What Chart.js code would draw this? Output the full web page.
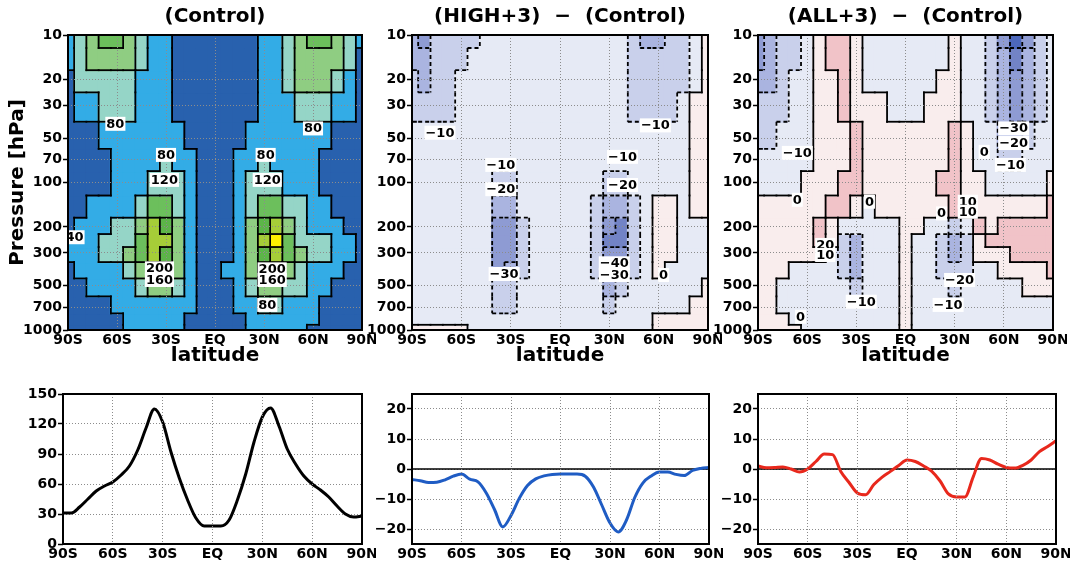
<!DOCTYPE html>
<html><head><meta charset="utf-8">
<script src="https://cdn.jsdelivr.net/npm/chart.js@4.4.1/dist/chart.umd.min.js"></script>
<style>
html,body{margin:0;padding:0;background:#fff;}
body{width:1074px;height:568px;position:relative;overflow:hidden;}
canvas{position:absolute;}
</style></head><body>
<canvas id="t1" width="376" height="372" style="left:0;top:0"></canvas>
<canvas id="t2" width="360" height="372" style="left:362px;top:0"></canvas>
<canvas id="t3" width="359" height="372" style="left:708px;top:0"></canvas>
<canvas id="b1" width="376" height="188" style="left:0;top:380px"></canvas>
<canvas id="b2" width="361" height="188" style="left:362px;top:380px"></canvas>
<canvas id="b3" width="362" height="188" style="left:708px;top:380px"></canvas>
<script>
// ---------- data ----------
const lats = [-90,-82.5,-75,-67.5,-60,-52.5,-45,-37.5,-30,-22.5,-15,-7.5,0,7.5,15,22.5,30,37.5,45,52.5,60,67.5,75,82.5,90];
const levels = [10,15,20,30,50,70,100,150,200,250,300,400,500,700,850,1000];
const pressureTicks = [10,20,30,50,70,100,200,300,500,700,1000];
const latTicks = [-90,-60,-30,0,30,60,90];
const latTickLabels = ['90S','60S','30S','EQ','30N','60N','90N'];

const control = [
[60,110,150,170,165,130,100,60,50,30,20,15,15,15,20,35,55,70,100,140,170,175,140,100,60],
[50,90,125,140,140,122,95,60,50,30,20,15,15,15,20,35,55,70,95,125,145,145,125,90,35],
[38,80,105,115,115,100,78,60,45,30,20,18,18,18,20,32,50,65,90,125,135,128,100,70,35],
[30,40,70,90,95,85,70,58,45,30,20,18,18,18,20,32,45,58,68,85,100,90,70,50,30],
[25,30,38,55,70,68,65,65,65,45,25,18,15,18,25,45,65,65,65,68,72,62,38,30,25],
[22,25,30,38,60,68,72,76,82,65,42,25,20,25,42,65,82,78,72,65,55,35,32,25,22],
[20,22,28,35,42,55,68,88,112,85,60,30,25,30,60,85,112,90,70,55,42,35,28,22,20],
[25,30,40,55,65,78,110,170,160,115,70,38,30,38,70,115,160,175,115,80,65,45,35,30,25],
[35,45,60,70,80,100,140,250,230,140,75,35,30,35,75,140,230,265,130,95,78,62,42,30,25],
[45,55,65,80,95,115,170,275,240,140,78,38,30,38,78,140,250,290,180,115,95,80,60,40,30],
[50,58,70,85,100,125,170,250,210,135,78,38,30,38,78,135,220,260,175,130,105,85,65,45,30],
[38,42,55,65,75,95,140,200,180,120,70,38,30,40,72,125,190,210,150,100,78,65,42,32,28],
[25,32,45,55,65,75,95,130,125,95,60,35,25,35,62,100,135,140,110,85,70,48,38,30,28],
[20,22,28,35,42,58,65,75,78,65,42,28,20,28,42,65,82,82,70,60,42,32,30,25,20],
[20,22,25,30,38,48,55,60,55,45,30,22,18,22,30,42,58,60,58,52,40,30,25,22,20],
[18,20,22,28,35,42,50,55,50,42,28,20,18,20,28,40,52,55,52,48,38,28,22,20,18]
];
const high3 = [
[-28,-32,-18,-14,-12,-11,-4,-3,-3,-3,-3,-3,-3,-3,-3,-3,-3,-8,-15,-21,-22,-20,-14,-5,2],
[-26,-26,-16,-13,-11,-6,-3,-3,-3,-3,-3,-3,-3,-3,-3,-3,-3,-6,-13,-18,-18,-15,-12,-4,1],
[-18,-22,-16,-12,-8,-4,-3,-3,-3,-3,-3,-3,-3,-3,-3,-3,-3,-4,-12,-15,-15,-13,-11,-3,1],
[-12,-15,-14,-12,-5,-3,-3,-3,-3,-3,-3,-3,-3,-3,-3,-3,-3,-3,-11,-12,-12,-11,-6,2,2],
[-6,-8,-7,-4,-3,-3,-3,-3,-3,-3,-3,-3,-3,-3,-3,-3,-3,-3,-6,-8,-7,-5,-3,2,2],
[-3,-3,-3,-3,-3,-3,-3,-4,-4,-3,-3,-3,-3,-3,-3,-3,-8,-8,-3,-3,-3,-3,-3,2,2],
[-3,-3,-3,-3,-3,-3,-5,-12,-12,-5,-3,-3,-3,-3,-3,-8,-15,-15,-6,-3,-3,-3,-3,2,2],
[-3,-3,-3,-3,-3,-3,-6,-25,-22,-8,-3,-3,-3,-3,-3,-14,-28,-30,-12,-3,2,2,-3,2,2],
[-3,-3,-3,-3,-3,-3,-9,-35,-31,-12,-3,-3,-3,-3,-3,-18,-40,-44,-15,-3,2,2,-3,-3,-3],
[-3,-3,-3,-3,-3,-3,-9,-36,-32,-13,-3,-3,-3,-3,-3,-18,-42,-42,-15,-3,2,2,-3,-3,-3],
[-3,-3,-3,-3,-3,-3,-9,-34,-31,-12,-3,-3,-3,-3,-3,-17,-38,-36,-13,-3,2,2,-3,-3,-3],
[-3,-3,-3,-3,-3,-3,-8,-31,-24,-11,-3,-3,-3,-3,-3,-14,-30,-28,-11,-3,2,-3,-3,-3,-3],
[-3,-3,-3,-3,-3,-3,-6,-18,-18,-8,-3,-3,-3,-3,-3,-10,-22,-18,-8,-3,-3,-3,-3,-3,2],
[-3,-3,-3,-3,-3,-3,-4,-11,-12,-5,-3,-3,-3,-3,-3,-5,-12,-10,-4,-3,-3,-3,-3,1,2],
[-2,-2,-2,-2,-2,-3,-3,-4,-4,-3,-3,-3,-3,-3,-3,-3,-4,-3,-3,-3,1,2,2,2,2],
[2,2,2,2,2,-2,-3,-3,-3,-3,-3,-3,-3,-3,-3,-3,-3,-3,-3,-2,2,2,2,2,2]
];
const all3 = [
[-35,-30,-20,-12,-3,3,12,12,3,-2,-3,-3,-3,-3,-3,-2,2,-2,-8,-20,-35,-55,-35,-15,-5],
[-32,-26,-18,-11,-4,3,11,12,4,-2,-3,-3,-3,-3,-3,-2,2,-2,-7,-16,-30,-45,-30,-15,-6],
[-24,-22,-17,-10,-3,3,8,12,5,-2,-2,-3,-3,-3,-2,2,3,-1,-5,-13,-26,-38,-26,-13,-6],
[-18,-15,-12,-8,-3,2,5,11,8,1,1,-1,-1,-1,1,4,8,-1,-3,-12,-22,-32,-22,-11,-6],
[-12,-11,-9,-4,-2,2,4,8,12,3,2,2,2,2,2,5,11,2,-2,-8,-25,-22,-12,-5,-3],
[-8,-6,-4,-2,-1,2,4,7,12,4,2,2,2,2,2,6,11,2,-1,-5,-15,-12,-6,-3,-2],
[-3,-3,-2,-1,1,3,6,11,11,3,2,2,2,2,2,10,12,3,1,-3,-5,-4,-3,-2,1],
[1,1,1,1,2,6,12,11,1,-2,2,2,3,2,1,4,11,8,6,5,4,5,6,9,11],
[2,2,2,2,3,12,8,-1,-6,-4,-2,-1,2,1,-1,-5,-12,-10,11,8,10,11,12,12,13],
[2,2,2,2,5,12,2,-13,-21,-8,-3,-1,2,-1,-3,-12,-22,-18,6,11,12,12,12,13,13],
[2,2,2,2,3,5,-5,-15,-22,-10,-4,-2,2,-1,-4,-13,-23,-16,2,5,8,11,12,12,12],
[2,2,1,-1,-2,-3,-6,-12,-21,-10,-4,-2,2,-2,-4,-11,-20,-14,-3,-1,1,3,6,8,11],
[2,1,-1,-2,-3,-4,-5,-9,-12,-7,-3,-2,2,-2,-3,-8,-13,-9,-3,-2,-1,-1,1,3,5],
[1,1,-1,-2,-2,-3,-3,-4,-5,-3,-2,-1,2,-2,-3,-5,-6,-4,-3,-2,-2,-2,-1,-1,-1],
[1,1,1,-1,-2,-2,-2,-3,-3,-2,-2,-1,2,-1,-2,-3,-4,-3,-2,-2,-1,-1,-1,-1,-1],
[1,1,1,1,-1,-2,-2,-2,-2,-2,-1,-1,2,-1,-1,-2,-2,-2,-2,-1,-1,-1,-1,-1,-1]
];

const lat5 = [-90,-85,-80,-75,-70,-65,-60,-55,-50,-45,-40,-35,-30,-25,-20,-15,-10,-5,0,5,10,15,20,25,30,35,40,45,50,55,60,65,70,75,80,85,90];
const controlMean = [31,31,37,45,53,58,62,69,78,94,116,135,122,92,66,44,26,18,18,18,24,44,70,102,127,136,118,95,80,68,60,54,47,38,30,27,28];
const highMean = [-3.5,-3.9,-4.5,-4.4,-3.6,-2.4,-1.7,-3.4,-4.3,-8,-13.5,-19.3,-15.5,-9.8,-5.5,-3.3,-2.3,-1.8,-1.7,-1.7,-1.7,-2.4,-6,-12,-18,-21,-17,-9.5,-4.6,-2.3,-1,-1,-1.8,-2.2,-0.5,0.2,0.5];
const allMean = [1,0.4,0.5,0.7,0,-1,0,2.5,5,4.8,-0.8,-4.5,-8,-8.6,-5.2,-2.7,-0.8,1.2,3,2.5,1,-0.8,-4,-8.3,-9.3,-9.3,-2.6,3.5,3,1.6,0.5,0.3,1.2,3,5.8,7.5,9.4];
const zeroLine = [0,0];

const ctlLabels = [[-61,40,'80'],[60,43,'80'],[-30,65,'80'],[-31,96,'120'],[31,65,'80'],[32,96,'120'],[-86,235,'40'],[-34,382,'200'],[-34,458,'160'],[35,388,'200'],[35,458,'160'],[32,676,'80']];
const highLabels = [[-73,46,'−10'],[-36,76,'−10'],[-36,111,'−20'],[-34,417,'−30'],[38,67,'−10'],[38,104,'−20'],[33,353,'−40'],[33,424,'−30'],[58,41,'−10'],[63,424,'0']];
const allLabels = [[-66,63,'−10'],[-66,131,'0'],[-22,135,'0'],[-49,265,'20'],[-49,310,'10'],[-27,643,'−10'],[-64,813,'0'],[22,162,'0'],[38,135,'10'],[38,158,'10'],[33,458,'−20'],[26,676,'−10'],[48,62,'0'],[66,43,'−30'],[66,54,'−20'],[64,76,'−10']];

// ---------- styling ----------
const FONT = "'DejaVu Sans', Verdana, sans-serif";
Chart.defaults.font.family = FONT;
Chart.defaults.color = '#000';
const ctlThr = [40,80,120,160,200,240,280];
const ctlCol = ['#2861ae','#33ace6','#95d5c7','#8fcd82','#6cbf5c','#5cb548','#a6cd38','#fff000'];
const difThr = [-50,-40,-30,-20,-10,0,10,20];
const difCol = ['#4d68bc','#7283c6','#8e9bd3','#aab4e0','#c9d0eb','#e6eaf5','#f9eded','#f1c3c8','#e79aa3'];
const bandOf = (v, thr) => { let b = 0; for (const t of thr) if (v >= t) b++; return b; };

const edges = levels.map((p, i) => [
  i === 0 ? p : Math.sqrt(p * levels[i - 1]),
  i === levels.length - 1 ? p : Math.sqrt(p * levels[i + 1])
]);
const tickFont = {family: FONT, size: 14, weight: 'bold'};
const GRID = '#8c8c8c';

const framePlugin = {id: 'frame', afterDraw(chart) {
  const c = chart.chartArea, ctx = chart.ctx;
  ctx.save(); ctx.strokeStyle = '#000'; ctx.lineWidth = 2;
  ctx.strokeRect(c.left, c.top, c.right - c.left, c.bottom - c.top); ctx.restore();
}};

function makeContourPlugin(field, thr) {
  return {id: 'contourLines', afterDatasetsDraw(chart) {
    const xs = chart.scales.x, ys = chart.scales.y, ctx = chart.ctx, ca = chart.chartArea;
    const half = (lats[1] - lats[0]) / 2;
    const xl = c => xs.getPixelForValue(lats[c] - half), xr = c => xs.getPixelForValue(lats[c] + half);
    const yt = r => ys.getPixelForValue(edges[r][0]), yb = r => ys.getPixelForValue(edges[r][1]);
    ctx.save(); ctx.beginPath(); ctx.rect(ca.left, ca.top, ca.right - ca.left, ca.bottom - ca.top); ctx.clip();
    ctx.strokeStyle = '#000'; ctx.lineWidth = 1.8;
    const seg = (x1, y1, x2, y2, b1, b2) => {
      const t = thr[Math.max(b1, b2) - 1];
      const dashed = t < 0;
      ctx.setLineDash(dashed ? [4, 3] : []); ctx.lineCap = dashed ? 'butt' : 'square';
      ctx.beginPath(); ctx.moveTo(x1, y1); ctx.lineTo(x2, y2); ctx.stroke();
    };
    for (let r = 0; r < field.length; r++) for (let c = 0; c < lats.length; c++) {
      const b = bandOf(field[r][c], thr);
      if (c < lats.length - 1) { const b2 = bandOf(field[r][c + 1], thr); if (b !== b2) seg(xr(c), yt(r), xr(c), yb(r), b, b2); }
      if (r < field.length - 1) { const b2 = bandOf(field[r + 1][c], thr); if (b !== b2) seg(xl(c), yb(r), xr(c), yb(r), b, b2); }
    }
    ctx.restore();
  }};
}
function makeLabelPlugin(list) {
  return {id: 'contourLabels', afterDraw(chart) {
    const xs = chart.scales.x, ys = chart.scales.y, ctx = chart.ctx, ca = chart.chartArea;
    ctx.save(); ctx.beginPath(); ctx.rect(ca.left, ca.top, ca.right - ca.left, ca.bottom - ca.top); ctx.clip();
    ctx.font = 'bold 13px ' + FONT; ctx.textAlign = 'center'; ctx.textBaseline = 'middle';
    for (const [lat, p, t] of list) {
      const px = xs.getPixelForValue(lat), py = ys.getPixelForValue(p);
      const w = ctx.measureText(t).width + 2;
      ctx.fillStyle = '#fff'; ctx.fillRect(px - w / 2, py - 7, w, 14);
      ctx.fillStyle = '#000'; ctx.fillText(t, px, py + 0.5);
    }
    ctx.restore();
  }};
}

function xAxis(withTitle, h) {
  return {
    type: 'linear', min: -90, max: 90, offset: false,
    grid: {offset: false, color: GRID, lineWidth: 1, drawTicks: false, z: 1},
    border: {display: false, dash: [1, 2]},
    afterBuildTicks: ax => { ax.ticks = latTicks.map(v => ({value: v})); },
    ticks: {callback: v => latTickLabels[latTicks.indexOf(v)], font: tickFont, color: '#000', padding: 2, maxRotation: 0, autoSkip: false},
    title: withTitle ? {display: true, text: 'latitude', color: '#000', font: {family: FONT, size: 20, weight: 'bold'}, padding: {top: 0, bottom: 4}} : {display: false},
    afterFit: ax => { ax.height = h; ax.paddingLeft = 0; ax.paddingRight = 0; }
  };
}

function topChart(id, field, thr, cols, title, labels, yTitle, yWidth) {
  const datasets = levels.map((p, r) => ({
    type: 'bar',
    data: lats.map(lat => ({x: lat, y: edges[r]})),
    backgroundColor: field[r].map(v => cols[bandOf(v, thr)]),
    borderWidth: 0, inflateAmount: 1, grouped: false, barPercentage: 1, categoryPercentage: 1
  }));
  new Chart(document.getElementById(id), {
    type: 'bar',
    data: {datasets},
    options: {
      responsive: false, animation: false, devicePixelRatio: 1,
      layout: {padding: {left: 0, right: 14, top: 0, bottom: 0}},
      plugins: {
        legend: {display: false}, tooltip: {enabled: false},
        title: {display: true, text: title, fullSize: false, color: '#000', font: {family: FONT, size: 20, weight: 'bold'}, padding: {top: 5, bottom: 6}}
      },
      scales: {
        x: xAxis(true, 42),
        y: {
          type: 'logarithmic', reverse: true, min: 10, max: 1000, beginAtZero: false,
          afterBuildTicks: ax => { ax.ticks = pressureTicks.map(v => ({value: v})); },
          ticks: {callback: v => String(v), font: tickFont, color: '#000', padding: 1, autoSkip: false},
          grid: {color: GRID, lineWidth: 1, z: 1, drawTicks: true, tickLength: 5, tickColor: '#000', tickWidth: 1.5},
          border: {display: false, dash: [1, 2]},
          title: yTitle ? {display: true, text: 'Pressure [hPa]', color: '#000', font: {family: FONT, size: 20, weight: 'bold'}, padding: {top: 6, bottom: 0}} : {display: false},
          afterFit: ax => { ax.width = yWidth; ax.paddingTop = 0; ax.paddingBottom = 0; }
        }
      }
    },
    plugins: [makeContourPlugin(field, thr), makeLabelPlugin(labels), framePlugin]
  });
}

function bottomChart(id, series, color, yMin, yMax, yTicks, yWidth, withZero) {
  const datasets = [{
    data: lat5.map((l, i) => ({x: l, y: series[i]})),
    borderColor: color, borderWidth: 3, pointRadius: 0, cubicInterpolationMode: 'monotone', fill: false
  }];
  if (withZero) datasets.push({data: [{x: -90, y: zeroLine[0]}, {x: 90, y: zeroLine[1]}], borderColor: '#000', borderWidth: 1.5, pointRadius: 0, fill: false});
  new Chart(document.getElementById(id), {
    type: 'line',
    data: {datasets},
    options: {
      responsive: false, animation: false, devicePixelRatio: 1,
      layout: {padding: {left: 0, right: 14, top: 14, bottom: 0}},
      plugins: {legend: {display: false}, tooltip: {enabled: false}},
      scales: {
        x: xAxis(false, 24),
        y: {
          type: 'linear', min: yMin, max: yMax,
          afterBuildTicks: ax => { ax.ticks = yTicks.map(v => ({value: v})); },
          ticks: {callback: v => String(v).replace('-', '−'), font: tickFont, color: '#000', padding: 1, autoSkip: false},
          grid: {color: GRID, lineWidth: 1, drawTicks: true, tickLength: 5, tickColor: '#000', tickWidth: 1.5},
          border: {display: false, dash: [1, 2]},
          afterFit: ax => { ax.width = yWidth; ax.paddingTop = 0; ax.paddingBottom = 0; }
        }
      }
    },
    plugins: [framePlugin]
  });
}

topChart('t1', control, ctlThr, ctlCol, '(Control)', ctlLabels, true, 68);
topChart('t2', high3, difThr, difCol, '(HIGH+3)  −  (Control)', highLabels, false, 50);
topChart('t3', all3, difThr, difCol, '(ALL+3)  −  (Control)', allLabels, false, 50);
bottomChart('b1', controlMean, '#000000', 0, 150, [0,30,60,90,120,150], 63, false);
bottomChart('b2', highMean, '#1f5cc4', -25, 25, [-20,-10,0,10,20], 50, true);
bottomChart('b3', allMean, '#e8281c', -25, 25, [-20,-10,0,10,20], 50, true);
</script>
</body></html>
